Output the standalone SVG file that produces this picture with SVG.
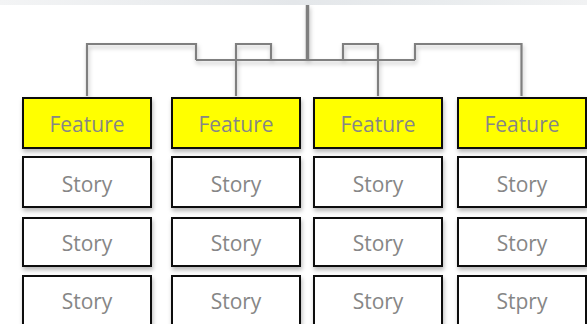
<svg xmlns="http://www.w3.org/2000/svg" width="587" height="324" viewBox="0 0 587 324">
  <defs>
    <filter id="shadow" x="-10%" y="-10%" width="130%" height="140%">
      <feDropShadow dx="1" dy="3" stdDeviation="2" flood-color="#000" flood-opacity="0.28"/>
    </filter>
    <filter id="lineShadow" x="-10%" y="-20%" width="120%" height="160%">
      <feDropShadow dx="1" dy="3" stdDeviation="2" flood-color="#000" flood-opacity="0.25"/>
    </filter>
    <linearGradient id="band" x1="0" y1="0" x2="1" y2="0">
      <stop offset="0" stop-color="#f3f4f5"/>
      <stop offset="0.5" stop-color="#e4e7ea"/>
      <stop offset="0.75" stop-color="#e9ecee"/>
      <stop offset="1" stop-color="#f1f2f3"/>
    </linearGradient>
  </defs>
  <style>
    .box { stroke: #111; stroke-width: 2; filter: url(#shadow); }
    .feature { fill: #ffff00; }
    .story { fill: #ffffff; }
    .label { font-family: "Open Sans", "Liberation Sans", sans-serif; font-size: 21px; fill: #868686; text-anchor: middle; }
    .wire { fill: none; stroke: #7f7f7f; stroke-width: 2.2; stroke-linejoin: miter; }
  </style>

  <!-- faint band along the top edge -->
  <rect x="0" y="0" width="587" height="5" fill="url(#band)"/>

  <g id="connectors" filter="url(#lineShadow)">
    <path class="wire" d="M307.5 5 V60" style="stroke-width:3.5"/>
    <path class="wire" d="M196 60 H415"/>
    <path class="wire" d="M87 96 V44 H196 V60"/>
    <path class="wire" d="M236 96 V44 H271 V60"/>
    <path class="wire" d="M378 96 V44 H343 V60"/>
    <path class="wire" d="M521.5 96 V44 H415 V60"/>
  </g>

  <g id="col1">
    <g id="feature1"><rect class="box feature" x="23" y="98" width="128" height="50"/><text class="label" x="87" y="131.5">Feature</text></g>
    <g id="story1a"><rect class="box story" x="23" y="157" width="128" height="50"/><text class="label" x="87" y="191.5">Story</text></g>
    <g id="story1b"><rect class="box story" x="23" y="218" width="128" height="48"/><text class="label" x="87" y="251">Story</text></g>
    <g id="story1c"><rect class="box story" x="23" y="276" width="128" height="49"/><text class="label" x="87" y="308.5">Story</text></g>
  </g>
  <g id="col2">
    <g id="feature2"><rect class="box feature" x="172" y="98" width="128" height="50"/><text class="label" x="236" y="131.5">Feature</text></g>
    <g id="story2a"><rect class="box story" x="172" y="157" width="128" height="50"/><text class="label" x="236" y="191.5">Story</text></g>
    <g id="story2b"><rect class="box story" x="172" y="218" width="128" height="48"/><text class="label" x="236" y="251">Story</text></g>
    <g id="story2c"><rect class="box story" x="172" y="276" width="128" height="49"/><text class="label" x="236" y="308.5">Story</text></g>
  </g>
  <g id="col3">
    <g id="feature3"><rect class="box feature" x="314" y="98" width="128" height="50"/><text class="label" x="378" y="131.5">Feature</text></g>
    <g id="story3a"><rect class="box story" x="314" y="157" width="128" height="50"/><text class="label" x="378" y="191.5">Story</text></g>
    <g id="story3b"><rect class="box story" x="314" y="218" width="128" height="48"/><text class="label" x="378" y="251">Story</text></g>
    <g id="story3c"><rect class="box story" x="314" y="276" width="128" height="49"/><text class="label" x="378" y="308.5">Story</text></g>
  </g>
  <g id="col4">
    <g id="feature4"><rect class="box feature" x="458" y="98" width="128" height="50"/><text class="label" x="522" y="131.5">Feature</text></g>
    <g id="story4a"><rect class="box story" x="458" y="157" width="128" height="50"/><text class="label" x="522" y="191.5">Story</text></g>
    <g id="story4b"><rect class="box story" x="458" y="218" width="128" height="48"/><text class="label" x="522" y="251">Story</text></g>
    <g id="story4c"><rect class="box story" x="458" y="276" width="128" height="49"/><text class="label" x="522" y="308.5">Stpry</text></g>
  </g>
</svg>
